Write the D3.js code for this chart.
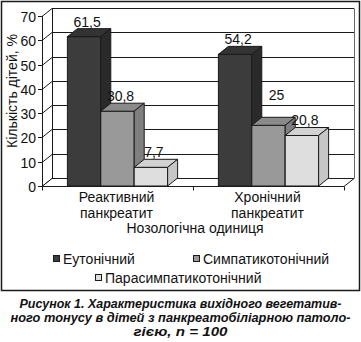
<!DOCTYPE html>
<html>
<head>
<meta charset="utf-8">
<script src="https://cdn.jsdelivr.net/npm/d3@7"></script>
<style>
  html, body { margin: 0; padding: 0; background: #fff; }
  svg { display: block; font-family: "Liberation Sans", Arial, sans-serif; }
</style>
</head>
<body>
<svg id="chart" width="361" height="342"></svg>
<script>
// ---- data ----
const categories = [["Реактивний", "панкреатит"], ["Хронічний", "панкреатит"]];
const categoryKeys = ["Реактивний панкреатит", "Хронічний панкреатит"];
const seriesNames = ["Еутонічний", "Симпатикотонічний", "Парасимпатикотонічний"];
const eutonic = [61.5, 54.2];
const sympathicotonic = [30.8, 25];
const parasympathicotonic = [7.7, 20.8];
const valueLabels = [["61,5", "30,8", "7,7"], ["54,2", "25", "20,8"]];
const yTicks = [0, 10, 20, 30, 40, 50, 60, 70];
const yTitle = "Кількість дітей, %";
const xTitle = "Нозологічна одиниця";
const captionLines = [
  "Рисунок 1. Характеристика вихідного вегетатив-",
  "ного тонусу в дітей з панкреатобіліарною патоло-",
  "гією, n = 100"
];

const seriesValues = [eutonic, sympathicotonic, parasympathicotonic];

// ---- layout ----
const svg = d3.select("#chart");
const pLeft = 42, pRight = 344, pTop = 16, pBottom = 186;
const dx = 10, dy = -8;
const fs = 14;
const colors = [
  { front: "#3c3c3c", top: "#333333", side: "#2a2a2a" },
  { front: "#999999", top: "#8a8a8a", side: "#7f7f7f" },
  { front: "#dedede", top: "#d2d2d2", side: "#c6c6c6" }
];
const stroke = "#1a1a1a";

const y = d3.scaleLinear().domain([0, 70]).range([pBottom, pTop]);
const x0 = d3.scaleBand().domain(categoryKeys).range([pLeft, pRight]);
const x1 = d3.scaleBand().domain(seriesNames).range([0, x0.bandwidth()]).paddingOuter(0.76);

// outer frame
svg.append("rect").attr("x", 1.5).attr("y", 1.5).attr("width", 358).attr("height", 289)
  .attr("fill", "none").attr("stroke", stroke).attr("stroke-width", 1.5);

const g = svg.append("g");

// back wall gridlines
yTicks.forEach(t => {
  const yy = Math.round(y(t)) + 0.5;
  g.append("line").attr("x1", pLeft).attr("y1", yy).attr("x2", pLeft + dx).attr("y2", yy + dy)
    .attr("stroke", stroke).attr("stroke-width", 1);
  if (t > 0) {
    g.append("line").attr("x1", pLeft + dx).attr("y1", yy + dy).attr("x2", pRight + dx).attr("y2", yy + dy)
      .attr("stroke", stroke).attr("stroke-width", 1);
  }
});
// floor
const fy = Math.round(y(0)) + 0.5;
g.append("path")
  .attr("d", `M${pLeft},${fy}L${pRight},${fy}L${pRight + dx},${fy + dy}L${pLeft + dx},${fy + dy}Z`)
  .attr("fill", "#fff").attr("stroke", stroke).attr("stroke-width", 1);
// back wall verticals
g.append("line").attr("x1", pLeft + dx + 0.5).attr("y1", Math.round(y(70)) + 0.5 + dy)
  .attr("x2", pLeft + dx + 0.5).attr("y2", fy + dy).attr("stroke", stroke);
g.append("line").attr("x1", pRight + dx + 0.5).attr("y1", Math.round(y(70)) + 0.5 + dy)
  .attr("x2", pRight + dx + 0.5).attr("y2", fy + dy).attr("stroke", "#666");

// front y axis
g.append("line").attr("x1", pLeft + 0.5).attr("y1", y(70)).attr("x2", pLeft + 0.5).attr("y2", y(0) + 1)
  .attr("stroke", stroke);
yTicks.forEach(t => {
  const yy = Math.round(y(t)) + 0.5;
  g.append("line").attr("x1", pLeft - 4).attr("y1", yy).attr("x2", pLeft).attr("y2", yy).attr("stroke", stroke);
  g.append("text").attr("x", pLeft - 6).attr("y", yy + 5).attr("text-anchor", "end")
    .attr("font-size", 14).attr("fill", "#111").text(t);
});
// category ticks
[pLeft, x0(categoryKeys[1]), pRight].forEach(xx => {
  g.append("line").attr("x1", Math.round(xx) + 0.5).attr("y1", fy).attr("x2", Math.round(xx) + 0.5)
    .attr("y2", fy + 4).attr("stroke", stroke);
});

// bars
categoryKeys.forEach((cat, ci) => {
  seriesNames.forEach((s, si) => {
    const v = seriesValues[si][ci];
    const bx = x0(cat) + x1(s);
    const bw = x1.bandwidth();
    const by = y(v);
    const c = colors[si];
    const bg = g.append("g");
    bg.append("rect").attr("x", bx).attr("y", by).attr("width", bw).attr("height", y(0) - by)
      .attr("fill", c.front).attr("stroke", stroke).attr("stroke-width", 1);
    bg.append("path")
      .attr("d", `M${bx},${by}L${bx + dx},${by + dy}L${bx + bw + dx},${by + dy}L${bx + bw},${by}Z`)
      .attr("fill", c.top).attr("stroke", stroke).attr("stroke-width", 1);
    bg.append("path")
      .attr("d", `M${bx + bw},${by}L${bx + bw + dx},${by + dy}L${bx + bw + dx},${y(0) + dy}L${bx + bw},${y(0)}Z`)
      .attr("fill", c.side).attr("stroke", stroke).attr("stroke-width", 1);
  });
});

// value labels
categoryKeys.forEach((cat, ci) => {
  seriesNames.forEach((s, si) => {
    const v = seriesValues[si][ci];
    let cx = x0(cat) + x1(s) + x1.bandwidth() / 2 + 3;
    let ly = y(v) + dy - 2;
    // this label was manually raised in the original
    if (ci === 1 && si === 1) { ly -= 15; cx += 5; }
    g.append("text").attr("x", cx).attr("y", ly)
      .attr("text-anchor", "middle").attr("font-size", fs).attr("fill", "#111")
      .text(valueLabels[ci][si]);
  });
});

// category labels
categoryKeys.forEach((cat, ci) => {
  const cx = x0(cat) + x0.bandwidth() / 2 - 1;
  categories[ci].forEach((line, li) => {
    g.append("text").attr("x", cx).attr("y", 202 + li * 16).attr("text-anchor", "middle")
      .attr("font-size", fs).attr("fill", "#111").text(line);
  });
});
g.append("text").attr("x", 195).attr("y", 233).attr("text-anchor", "middle")
  .attr("font-size", fs).attr("fill", "#111").text(xTitle);
g.append("text").attr("transform", "translate(17,91) rotate(-90)").attr("text-anchor", "middle")
  .attr("font-size", fs).attr("fill", "#111").text(yTitle);

// legend
const legendPos = [[53, 264], [193, 264], [95, 283]];
seriesNames.forEach((s, si) => {
  const [lx, ly] = legendPos[si];
  g.append("rect").attr("x", lx + 0.5).attr("y", ly - 8.5).attr("width", 6).attr("height", 6)
    .attr("fill", colors[si].front).attr("stroke", stroke).attr("stroke-width", 1);
  g.append("text").attr("x", lx + 10).attr("y", ly).attr("font-size", fs).attr("fill", "#111").text(s);
});

// caption
const capWidths = [322, 340, 94];
captionLines.forEach((line, i) => {
  svg.append("text").attr("x", 180.5).attr("y", 308 + i * 14).attr("text-anchor", "middle")
    .attr("font-size", 13).attr("font-weight", "bold").attr("font-style", "italic").attr("fill", "#111")
    .attr("textLength", capWidths[i]).attr("lengthAdjust", "spacingAndGlyphs")
    .text(line);
});
</script>
</body>
</html>
